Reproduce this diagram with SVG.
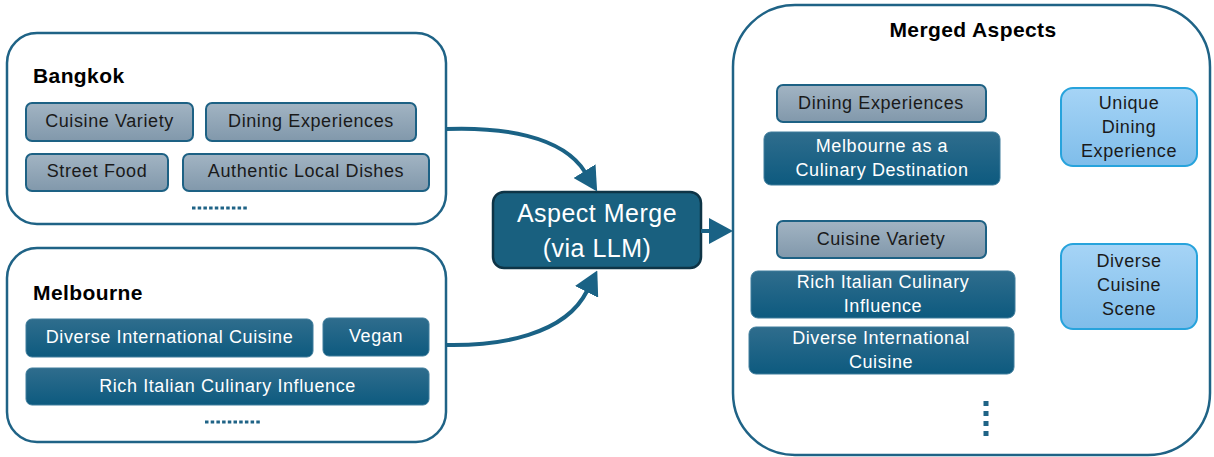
<svg xmlns="http://www.w3.org/2000/svg" width="1214" height="457" viewBox="0 0 1214 457">
<defs>
<linearGradient id="gGrey" x1="0" y1="0" x2="0" y2="1"><stop offset="0" stop-color="#a2b4c3"/><stop offset="1" stop-color="#8198ab"/></linearGradient>
<linearGradient id="gDark" x1="0" y1="0" x2="0" y2="1"><stop offset="0" stop-color="#2f6d8d"/><stop offset="1" stop-color="#0d5a7f"/></linearGradient>
<linearGradient id="gLight" x1="0" y1="0" x2="0" y2="1"><stop offset="0" stop-color="#a6d4f6"/><stop offset="1" stop-color="#7fbdea"/></linearGradient>
<marker id="ah" viewBox="0 0 24 26" refX="1" refY="13" markerWidth="24" markerHeight="26" markerUnits="userSpaceOnUse" orient="auto"><path d="M0,0 L24,13 L0,26 z" fill="#1a6285"/></marker>
</defs>
<style>
.cont{fill:#fff;stroke:#1f6386;stroke-width:2.5}
.grey{fill:url(#gGrey);stroke:#1d6184;stroke-width:2}
.dark{fill:url(#gDark);stroke:#3f7d9c;stroke-width:1}
.light{fill:url(#gLight);stroke:#27a3dc;stroke-width:2}
.t{font-family:"Liberation Sans",Arial,sans-serif;font-size:18px;letter-spacing:0.6px;text-anchor:middle}
.tb{fill:#1a1a1a}
.tw{fill:#ffffff}
.title{font-family:"Liberation Sans",Arial,sans-serif;font-size:21px;font-weight:bold;fill:#000;letter-spacing:0.4px}
.conn{fill:none;stroke:#1a6285;stroke-width:4}
.dots{stroke:#1f6386;stroke-width:3;stroke-dasharray:3.5 2.2}
</style>

<g id="bangkok">
<rect class="cont" x="7" y="33" width="439" height="191" rx="30"/>
<text class="title" x="33" y="83">Bangkok</text>
<rect class="grey" x="26" y="103" width="167" height="38" rx="6"/>
<text class="t tb" x="109.5" y="127">Cuisine Variety</text>
<rect class="grey" x="206" y="103" width="210" height="38" rx="6"/>
<text class="t tb" x="311" y="127">Dining Experiences</text>
<rect class="grey" x="26" y="154" width="142" height="37" rx="6"/>
<text class="t tb" x="97" y="177">Street Food</text>
<rect class="grey" x="183" y="154" width="246" height="37" rx="6"/>
<text class="t tb" x="306" y="177">Authentic Local Dishes</text>
<line class="dots" x1="192" y1="208" x2="248" y2="208"/>
</g>

<g id="melbourne">
<rect class="cont" x="7" y="248" width="439" height="194" rx="30"/>
<text class="title" x="33" y="300">Melbourne</text>
<rect class="dark" x="26" y="319" width="287" height="38" rx="6"/>
<text class="t tw" x="169.5" y="343">Diverse International Cuisine</text>
<rect class="dark" x="323" y="318" width="106" height="38" rx="6"/>
<text class="t tw" x="376" y="342">Vegan</text>
<rect class="dark" x="26" y="368" width="403" height="37" rx="6"/>
<text class="t tw" x="227.5" y="392">Rich Italian Culinary Influence</text>
<line class="dots" x1="205" y1="422" x2="262" y2="422"/>
</g>

<g id="merge">
<rect x="493" y="192" width="208" height="76" rx="11" fill="#19607f" stroke="#0e3446" stroke-width="2.5"/>
<text class="t tw" x="597" y="222" style="font-size:25px;letter-spacing:0.5px">Aspect Merge</text>
<text class="t tw" x="597" y="257" style="font-size:25px;letter-spacing:0.5px">(via LLM)</text>
</g>

<g id="merged">
<rect class="cont" x="733" y="5" width="477" height="450" rx="62"/>
<text class="title" x="973" y="37" text-anchor="middle">Merged Aspects</text>
<rect class="grey" x="777" y="85" width="209" height="37" rx="6"/>
<text class="t tb" x="881" y="109">Dining Experiences</text>
<rect class="dark" x="764" y="132" width="236" height="53" rx="7"/>
<text class="t tw" x="882" y="152">Melbourne as a</text>
<text class="t tw" x="882" y="176">Culinary Destination</text>
<rect class="grey" x="777" y="221" width="209" height="37" rx="6"/>
<text class="t tb" x="881" y="245">Cuisine Variety</text>
<rect class="dark" x="751" y="271" width="264" height="47" rx="7"/>
<text class="t tw" x="883" y="288">Rich Italian Culinary</text>
<text class="t tw" x="883" y="312">Influence</text>
<rect class="dark" x="749" y="327" width="265" height="47" rx="7"/>
<text class="t tw" x="881" y="344">Diverse International</text>
<text class="t tw" x="881" y="368">Cuisine</text>
<line x1="986" y1="401" x2="986" y2="436" stroke="#1f6386" stroke-width="5" stroke-dasharray="5 5"/>
</g>

<g id="unique">
<rect class="light" x="1061" y="88" width="136" height="78" rx="12"/>
<text class="t tb" x="1129" y="109">Unique</text>
<text class="t tb" x="1129" y="133">Dining</text>
<text class="t tb" x="1129" y="157">Experience</text>
</g>

<g id="diverse">
<rect class="light" x="1061" y="244" width="136" height="85" rx="12"/>
<text class="t tb" x="1129" y="267">Diverse</text>
<text class="t tb" x="1129" y="291">Cuisine</text>
<text class="t tb" x="1129" y="315">Scene</text>
</g>

<g id="connectors">
<path class="conn" d="M446,129 C500,127 562,135 585,172" marker-end="url(#ah)"/>
<path class="conn" d="M446,345 C500,346 565,335 587,291" marker-end="url(#ah)"/>
<path class="conn" d="M701,231 L710,231" marker-end="url(#ah)"/>
</g>
</svg>
